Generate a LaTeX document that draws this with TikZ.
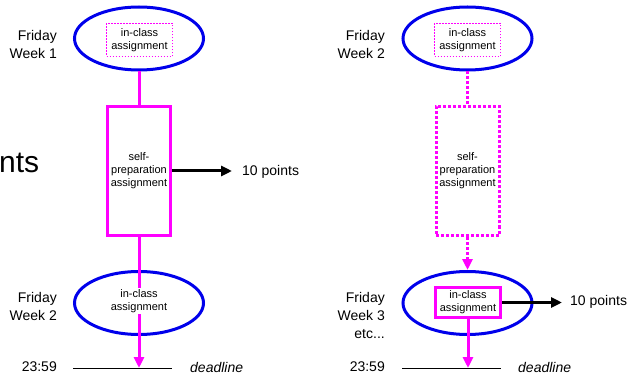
\documentclass[tikz,border=0pt]{standalone}
\usepackage{fontspec}
\setmainfont{Liberation Sans}
\usetikzlibrary{shapes.geometric,arrows.meta}
\definecolor{myblue}{RGB}{0,0,235}
\definecolor{mymag}{RGB}{255,0,255}
\begin{document}
\begin{tikzpicture}[x=1pt,y=-1pt,
  evt/.style={ellipse, draw=myblue, line width=3pt, minimum width=129pt, minimum height=63pt, inner sep=0pt},
  lbl/.style={font=\fontsize{14}{18}\selectfont, align=right, inner sep=0pt},
  small/.style={font=\fontsize{11}{13}\selectfont, align=center},
  task/.style={draw=mymag, line width=3pt, minimum width=63pt, minimum height=129pt, inner sep=0pt, small},
  dtask/.style={task, dash pattern=on 3pt off 2pt},
  innerbox/.style={draw=mymag, line width=0.8pt, dash pattern=on 1.5pt off 1.5pt, minimum width=66pt, minimum height=33pt, inner sep=0pt, small},
  solidbox/.style={draw=mymag, line width=3pt, fill=white, minimum width=65pt, minimum height=30pt, inner sep=0pt, small},
  link/.style={draw=mymag, line width=3pt},
  dlink/.style={link, dash pattern=on 3pt off 2pt},
  marr/.style={link, -{Triangle[length=11pt,width=10pt]}},
  barr/.style={draw=black, line width=3pt, -{Triangle[length=11pt,width=10pt]}},
  dline/.style={draw=black, line width=1pt}
]
\useasboundingbox (0,0) rectangle (629,374);

% big cut-off word
\node[anchor=west, inner sep=0pt, font=\fontsize{30}{36}\selectfont] (big) at (-1,163) {nts};

% ---------- left column ----------
\node[evt] (e1) at (139,38.5) {};
\node[innerbox] (i1) at (139.5,40) {in-class\\assignment};
\node[task] (t1) at (139,171) {self-\\preparation\\assignment};
\node[evt] (e2) at (139,303) {};
\coordinate (d1) at (139,368);
\draw[link] (e1.south) -- (t1.north);
\draw[marr] (t1.south) -- (d1);
\node[small, fill=white, inner sep=1.5pt] (c2) at (139,301) {in-class\\assignment};

\node[lbl, anchor=west] (p1) at (242,172) {10 points};
\draw[barr, shorten >=10pt] (t1.east) -- (t1.east -| p1.west);

\node[lbl, anchor=east] (f1) at (57,44) {Friday\\Week 1};
\node[lbl, anchor=east] (f2) at (57,306.5) {Friday\\Week 2};

\coordinate (dl1a) at (73,368);
\coordinate (dl1b) at (172,368);
\draw[dline] (dl1a) -- (dl1b);
\node[lbl, anchor=east] (tm1) at (57,367) {23:59};
\node[lbl, anchor=west, font=\fontsize{14}{18}\selectfont\itshape] (dd1) at (190,367) {deadline};

% ---------- right column ----------
\node[evt] (e3) at (467.5,38.5) {};
\node[innerbox] (i3) at (467.5,40) {in-class\\assignment};
\node[dtask] (t3) at (467.5,171) {self-\\preparation\\assignment};
\node[evt] (e4) at (467.5,303) {};
\coordinate (d2) at (468,368);
\draw[dlink] (e3.south) -- (t3.north);
\draw[marr, dash pattern=on 3pt off 2pt] (t3.south) -- (e4.north);
\node[solidbox] (b4) at (468,302.5) {in-class\\assignment};
\draw[marr] (b4.south) -- (d2);

\node[lbl, anchor=west] (p2) at (570,302) {10 points};
\draw[barr, shorten >=8pt] (b4.east) -- (b4.east -| p2.west);

\node[lbl, anchor=east] (f3) at (385,44) {Friday\\Week 2};
\node[lbl, anchor=east] (f4) at (385,315) {Friday\\Week 3\\etc...};

\coordinate (dl2a) at (402,368);
\coordinate (dl2b) at (501,368);
\draw[dline] (dl2a) -- (dl2b);
\node[lbl, anchor=east] (tm2) at (385,367) {23:59};
\node[lbl, anchor=west, font=\fontsize{14}{18}\selectfont\itshape] (dd2) at (518,367) {deadline};
\end{tikzpicture}
\end{document}
